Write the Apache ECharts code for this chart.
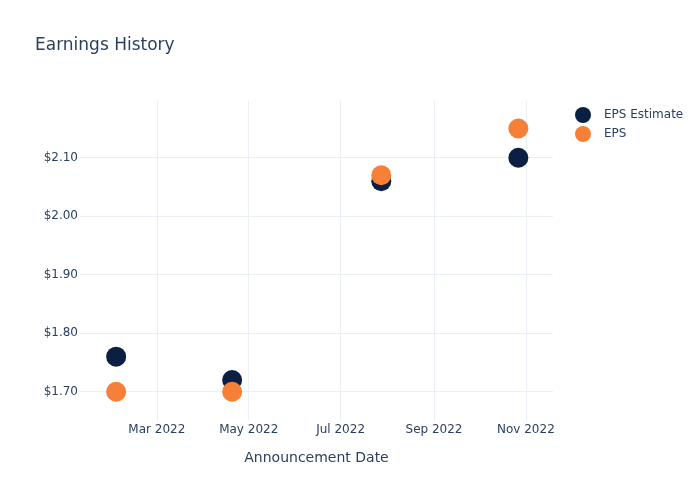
<!DOCTYPE html>
<html>
<head>
<meta charset="utf-8">
<script src="https://cdn.jsdelivr.net/npm/echarts@6/dist/echarts.min.js"></script>
<style>html,body{margin:0;padding:0;background:#fff}#c{width:700px;height:500px}</style>
</head>
<body>
<div id="c"></div>
<script>
const dates = ['2022-02-02', '2022-04-20', '2022-07-28', '2022-10-27'];
const epsEstimate = [1.76, 1.72, 2.06, 2.10];
const eps = [1.70, 1.70, 2.07, 2.15];
const yTicks = [1.7, 1.8, 1.9, 2.0, 2.1];
const xTicks = ['2022-03-01', '2022-05-01', '2022-07-01', '2022-09-01', '2022-11-01'];
const monthNames = ['Jan','Feb','Mar','Apr','May','Jun','Jul','Aug','Sep','Oct','Nov','Dec'];

const toTs = s => { const p = s.split('-'); return Date.UTC(+p[0], +p[1]-1, +p[2]); };
const font = 'DejaVu Sans';
const textColor = '#2a3f5f';
const gridColor = '#ebf0f8';

const chart = echarts.init(document.getElementById('c'), null, {renderer: 'canvas'});
chart.setOption({
  backgroundColor: '#fff',
  animation: false,
  title: {
    text: 'Earnings History', left: 30, top: 32,
    textStyle: {fontFamily: font, fontSize: 17, fontWeight: 'normal', color: textColor}
  },
  legend: {
    orient: 'vertical', left: 570, top: 102, itemGap: 3,
    itemWidth: 16, itemHeight: 16,
    icon: 'circle',
    textStyle: {fontFamily: font, fontSize: 12, color: textColor, padding: [0, 0, 0, 8]},
    data: ['EPS Estimate', 'EPS']
  },
  grid: {left: 80, right: 147, top: 101, bottom: 79, containLabel: false},
  xAxis: {
    type: 'value',
    min: toTs('2022-01-09'), max: toTs('2022-11-19'),
    name: 'Announcement Date', nameLocation: 'middle', nameGap: 30,
    nameTextStyle: {fontFamily: font, fontSize: 14, color: textColor},
    axisLine: {show: false},
    axisTick: {show: false, customValues: xTicks.map(toTs)},
    axisLabel: {
      customValues: xTicks.map(toTs), margin: 3,
      fontFamily: font, fontSize: 12, color: textColor,
      formatter: v => { const d = new Date(v); return monthNames[d.getUTCMonth()] + ' ' + d.getUTCFullYear(); }
    },
    splitLine: {show: true, lineStyle: {color: gridColor, width: 1}}
  },
  yAxis: {
    type: 'value', min: 1.65, max: 2.197,
    axisLine: {show: false},
    axisTick: {show: false, customValues: yTicks},
    axisLabel: {
      customValues: yTicks, margin: 2,
      fontFamily: font, fontSize: 12, color: textColor,
      formatter: v => '$' + v.toFixed(2)
    },
    splitLine: {show: true, lineStyle: {color: gridColor, width: 1}}
  },
  series: [
    {
      name: 'EPS Estimate', type: 'scatter', symbolSize: 20,
      itemStyle: {color: '#0b1f42', opacity: 1},
      data: dates.map((d, i) => [toTs(d), epsEstimate[i]])
    },
    {
      name: 'EPS', type: 'scatter', symbolSize: 20,
      itemStyle: {color: '#f68038', opacity: 1},
      data: dates.map((d, i) => [toTs(d), eps[i]])
    }
  ]
});
</script>
</body>
</html>
